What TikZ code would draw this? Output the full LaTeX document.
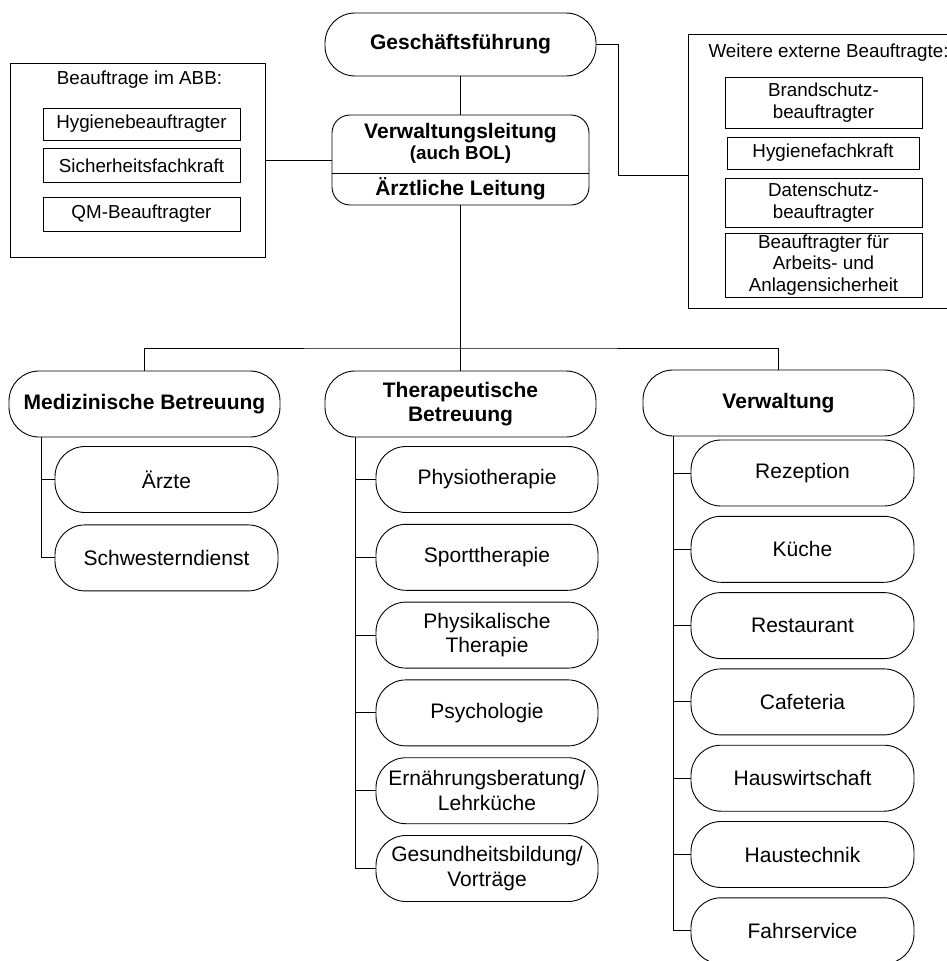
\documentclass[tikz,border=0pt]{standalone}
\usepackage{fontspec}
\setmainfont{Liberation Sans}
\usetikzlibrary{positioning}

\begin{document}
\begin{tikzpicture}[
    x=1pt, y=-1pt,
    node distance=11.8pt,
    font=\fontsize{21}{24.5}\selectfont,
    unit/.style={
		rectangle,
		rounded corners=30pt,
		draw=black,
		line width=0.9pt,
		text centered,
		align=center,
		minimum width=222pt,
		minimum height=66pt,
		inner sep=1pt,
		fill=white
	},
	head/.style={
		unit,
		font=\fontsize{21}{24.5}\selectfont\bfseries,
		minimum width=271pt
	},
	extern/.style={
		rectangle,
		draw=black,
		line width=0.9pt,
		align=center,
		minimum width=197pt,
		inner sep=1pt,
		font=\fontsize{18.8}{21.5}\selectfont
	},
	frame/.style={
		rectangle,
		draw=black,
		line width=0.9pt
	},
	link/.style={
		draw=black,
		line width=0.9pt
	}
  ]
  \useasboundingbox (0,0) rectangle (947,961);

    % Leitung oben
  \node [head, minimum height=63pt] (gf) at (460.5,44.5) {Geschäftsführung};
  \node [head, rounded corners=18pt, minimum width=257pt, minimum height=90pt] (vl) at (460.5,160) {};
  \node [font=\fontsize{21}{21}\selectfont\bfseries, align=center] (vltop) at (460.5,143)
    {Verwaltungsleitung\\{\fontsize{18.8}{21}\selectfont (auch BOL)}};
  \node [font=\fontsize{21}{24.5}\selectfont\bfseries] (vlbottom) at (460.5,189) {Ärztliche Leitung};
  \draw [link] (vl.west |- 0,173) -- (vl.east |- 0,173);

    % Beauftragte links
  \node [frame, minimum width=255pt, minimum height=194pt] (abb) at (137.5,160) {};
  \node [font=\fontsize{18.8}{21.5}\selectfont] (abbtitle) at (139.5,80) {Beauftrage im ABB:};
  \node [extern, minimum height=32pt] (hyg) at (141.5,124) {Hygienebeauftragter};
  \node [extern, minimum height=34pt] (sifa) at (141.5,165.5) {Sicherheitsfachkraft};
  \node [extern, minimum height=34pt] (qm) at (141.5,214) {QM-Beauftragter};

    % externe Beauftragte rechts
  \node [frame, minimum width=262pt, minimum height=274pt] (ext) at (819,171) {};
  \node [font=\fontsize{18.8}{21.5}\selectfont, anchor=west] (exttitle) at (705,53) {Weitere externe Beauftragte:};
  \node [extern, minimum height=51pt] (brand) at (823.5,102.5) {Brandschutz-\\beauftragter};
  \node [extern, minimum width=192pt, minimum height=32pt] (hygfk) at (823,153) {Hygienefachkraft};
  \node [extern, minimum height=49pt] (daten) at (823.5,202.5) {Datenschutz-\\beauftragter};
  \node [extern, minimum height=64pt] (arbeit) at (823.5,265) {Beauftragter für\\Arbeits- und\\Anlagensicherheit};

    % Bereiche
  \node [head] (med) at (144.5,404) {Medizinische Betreuung};
  \node [head] (ther) at (460.5,404) {Therapeutische\\Betreuung};
  \node [head] (verw) at (778.5,403) {Verwaltung};

  \node [unit, minimum width=223pt] (arzt) at (166.5,479.5) {Ärzte};
  \node [unit, minimum width=223pt, below=11.5pt of arzt] (schw) {Schwesterndienst};

  \node [unit] (physio) at (487,479.5) {Physiotherapie};
  \node [unit, below of=physio, node distance=77.8pt] (sport) {Sporttherapie};
  \node [unit, below of=sport, node distance=77.8pt] (physik) {Physikalische\\Therapie};
  \node [unit, below of=physik, node distance=77.8pt] (psych) {Psychologie};
  \node [unit, below of=psych, node distance=77.8pt] (ernaehr) {Ernährungsberatung/\\Lehrküche};
  \node [unit, below of=ernaehr, node distance=77.8pt] (gesund) {Gesundheitsbildung/\\Vorträge};

  \node [unit, minimum width=223pt] (rezep) at (802.5,473) {Rezeption};
  \node [unit, minimum width=223pt, below of=rezep, node distance=76.3pt] (kueche) {Küche};
  \node [unit, minimum width=223pt, below of=kueche, node distance=76.3pt] (rest) {Restaurant};
  \node [unit, minimum width=223pt, below of=rest, node distance=76.3pt] (cafe) {Cafeteria};
  \node [unit, minimum width=223pt, below of=cafe, node distance=76.3pt] (hausw) {Hauswirtschaft};
  \node [unit, minimum width=223pt, below of=hausw, node distance=76.3pt] (haust) {Haustechnik};
  \node [unit, minimum width=223pt, below of=haust, node distance=76.3pt] (fahr) {Fahrservice};

    % Verbindungen
  \coordinate (bus) at (460.5,348);
  \coordinate (extin) at (ext.west |- 0,175);
  \draw [link] (gf) -- (vl);
  \draw [link] (abb) -- (vl);
  \draw [link] (gf.east) -- ++(22,0) |- (extin);
  \draw [link] (vl) -- (bus);
  \draw [link] (med.north) |- (bus) -| (verw.north);
  \draw [link] (bus) -- (ther);

  \coordinate (medtrunk) at (41,437);
  \draw [link] (medtrunk) |- (schw.west);
  \draw [link] (medtrunk |- arzt.west) -- (arzt.west);

  \coordinate (thertrunk) at (355,437);
  \draw [link] (thertrunk) |- (gesund.west);
  \draw [link] (thertrunk |- physio.west) -- (physio.west);
  \draw [link] (thertrunk |- sport.west) -- (sport.west);
  \draw [link] (thertrunk |- physik.west) -- (physik.west);
  \draw [link] (thertrunk |- psych.west) -- (psych.west);
  \draw [link] (thertrunk |- ernaehr.west) -- (ernaehr.west);

  \coordinate (verwtrunk) at (673,436);
  \draw [link] (verwtrunk) |- (fahr.west);
  \draw [link] (verwtrunk |- rezep.west) -- (rezep.west);
  \draw [link] (verwtrunk |- kueche.west) -- (kueche.west);
  \draw [link] (verwtrunk |- rest.west) -- (rest.west);
  \draw [link] (verwtrunk |- cafe.west) -- (cafe.west);
  \draw [link] (verwtrunk |- hausw.west) -- (hausw.west);
  \draw [link] (verwtrunk |- haust.west) -- (haust.west);

\end{tikzpicture}
\end{document}
